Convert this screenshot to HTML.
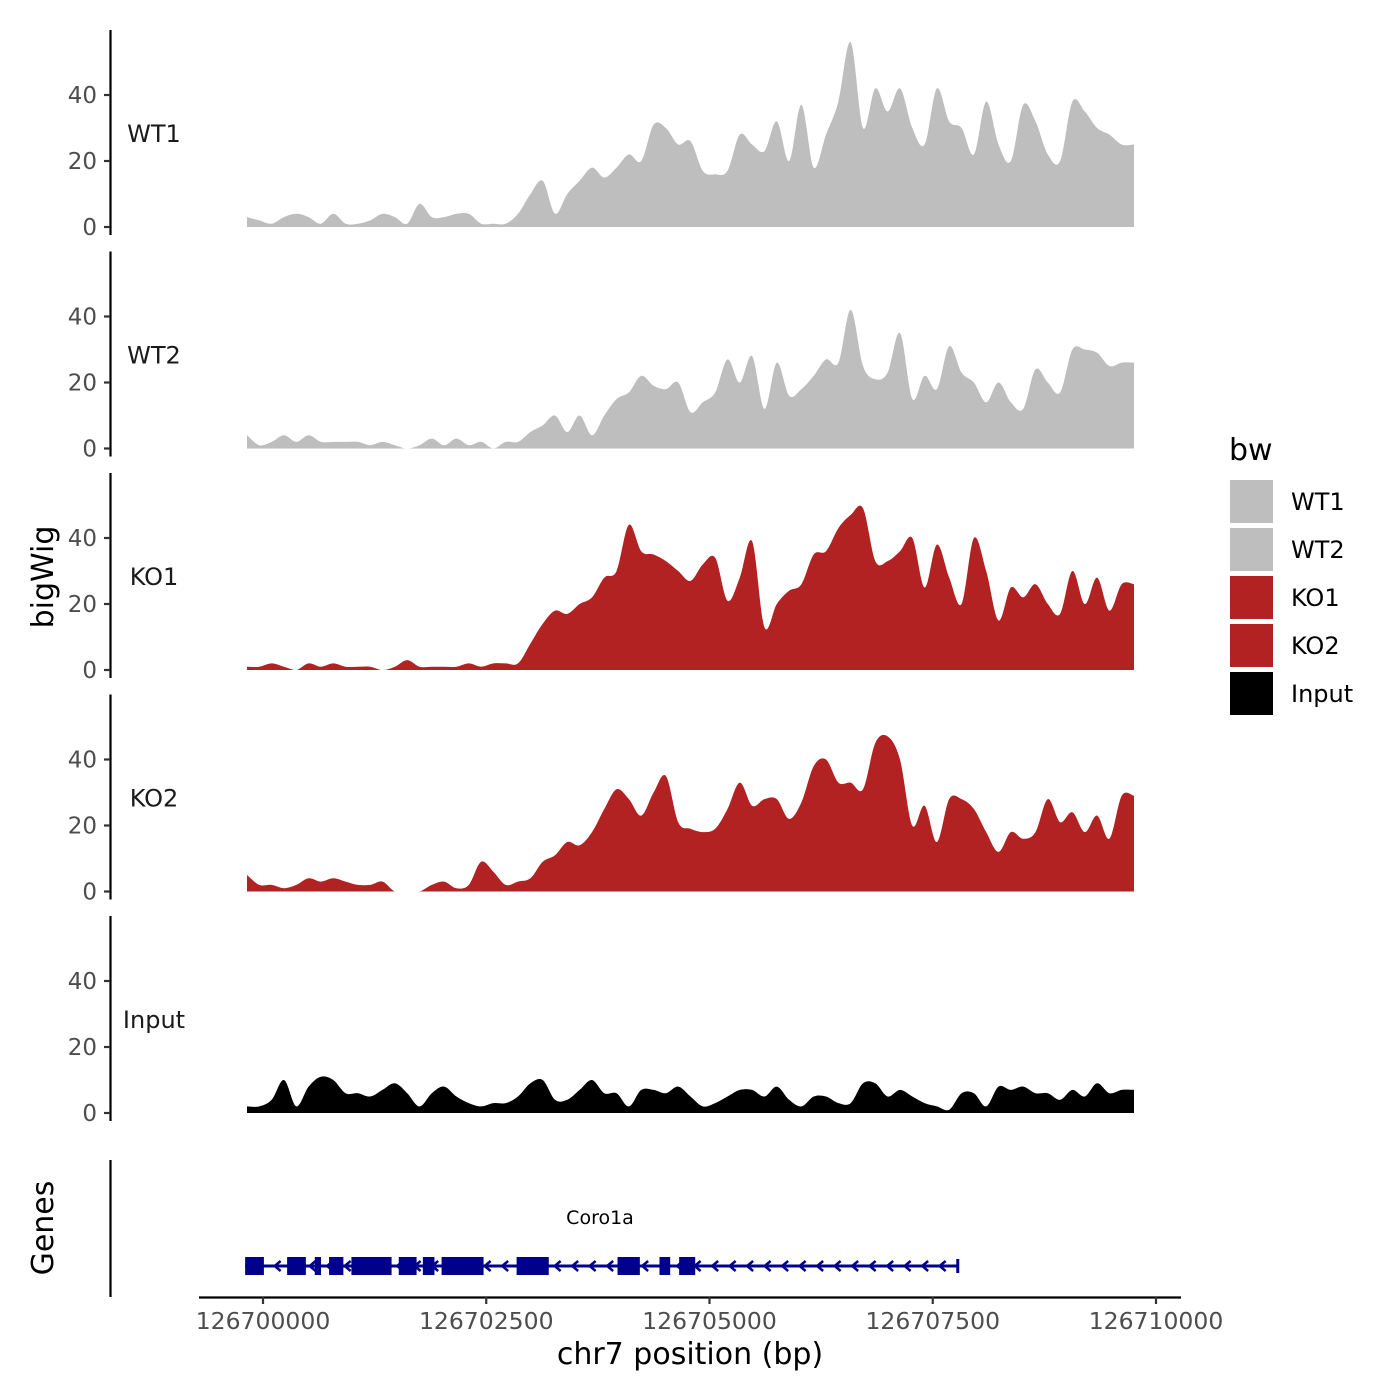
<!DOCTYPE html>
<html><head><meta charset="utf-8"><style>
html,body{margin:0;padding:0;background:#fff;}
svg{display:block;font-family:"DejaVu Sans","Liberation Sans",sans-serif;}
</style></head><body>
<svg id="chart" width="1400" height="1400" viewBox="0 0 1400 1400"></svg>
<script>
const trackNames = ["WT1","WT2","KO1","KO2","Input"];
const trackColors = ["#bebebe","#bebebe","#b22222","#b22222","#000000"];
const yTicks = [0,20,40];
const xTicks = [126700000,126702500,126705000,126707500,126710000];
const xTickLabels = ["126700000","126702500","126705000","126707500","126710000"];
const wt1 = [3,2,1,3,4,3,1,4,1,1,2,4,3,1,7,3,3,4,4,1,1,1,4,10,14,4,10,14,18,15,18,22,20,31,30,25,26,17,16,17,28,25,23,32,20,37,18,28,38,56,30,42,35,42,30,25,42,32,30,22,38,25,20,37,32,22,20,38,35,30,28,25,25];
const wt2 = [4,1,2,4,2,4,2,2,2,2,1,2,1,0,1,3,1,3,1,2,0,2,2,5,7,10,5,10,4,10,15,17,22,19,18,20,11,14,17,27,20,28,12,26,16,18,22,27,26,42,25,21,23,35,15,22,18,31,23,20,14,20,14,12,24,20,17,30,30,29,25,26,26];
const ko1 = [1,1,2,1,0,2,1,2,1,1,1,0,1,3,1,1,1,1,2,1,2,2,2,8,14,18,17,20,22,28,30,44,36,35,33,30,27,32,34,21,28,39,13,20,24,26,35,36,43,47,49,33,33,36,40,25,38,28,20,40,30,15,25,22,26,20,17,30,20,28,18,26,26];
const ko2 = [5,2,2,1,2,4,3,4,3,2,2,3,0,0,0,2,3,1,2,9,6,2,3,4,9,11,15,14,18,25,31,28,23,30,35,21,19,18,19,25,33,26,28,28,22,27,38,40,33,33,31,45,47,40,20,26,15,28,28,25,18,12,18,16,18,28,21,24,18,23,16,29,29];
const input = [2,2,4,10,2,8,11,10,6,6,5,7,9,6,2,6,8,5,3,2,3,3,5,9,10,4,4,7,10,6,6,2,7,7,6,8,5,2,3,5,7,7,5,8,4,2,5,5,3,3,9,9,5,7,5,3,2,1,6,6,2,8,7,8,6,6,4,7,5,9,6,7,7];
const seriesData = [wt1,wt2,ko1,ko2,input];
const startBp = 126699821, endBp = 126709754;
const exonStarts = [126699800,126700270,126700580,126700740,126700990,126701520,126701790,126702000,126702840,126703970,126704440,126704660];
const exonEnds   = [126700010,126700480,126700650,126700900,126701440,126701720,126701920,126702470,126703200,126704220,126704560,126704840];
const geneStart = 126699800, geneEnd = 126707780;

const NS="http://www.w3.org/2000/svg";
const svg=document.getElementById('chart');
function el(tag,attrs,parent){const e=document.createElementNS(NS,tag);for(const k in attrs)e.setAttribute(k,attrs[k]);(parent||svg).appendChild(e);return e;}
const xScale=bp=>263+(bp-126700000)*(1156-263)/10000;
const zeros=[227,448.5,670,891.5,1113];
const yUnit=3.3;

seriesData.forEach((vals,t)=>{
  const z=zeros[t];
  const g=el('g',{});
  
  
  const n=vals.length;
  const pts=vals.map((v,i)=>[xScale(startBp+(endBp-startBp)*i/(n-1)),z-v*yUnit]);
  let d='M'+pts[0][0].toFixed(1)+','+z+' L'+pts[0][0].toFixed(1)+','+pts[0][1].toFixed(1);
  for(let i=0;i<n-1;i++){
    const p0=pts[Math.max(0,i-1)],p1=pts[i],p2=pts[i+1],p3=pts[Math.min(n-1,i+2)];
    let c1y=p1[1]+(p2[1]-p0[1])/6, c2y=p2[1]-(p3[1]-p1[1])/6;
    c1y=Math.min(c1y,z); c2y=Math.min(c2y,z);
    d+=` C${(p1[0]+(p2[0]-p0[0])/6).toFixed(1)},${c1y.toFixed(1)} ${(p2[0]-(p3[0]-p1[0])/6).toFixed(1)},${c2y.toFixed(1)} ${p2[0].toFixed(1)},${p2[1].toFixed(1)}`;
  }
  d+=' L'+pts[n-1][0].toFixed(1)+','+z+' Z';
  const p=el('path',{d:d,fill:trackColors[t],stroke:'none'},g);
  
  
  const ax=el('line',{x1:110.5,x2:110.5,y1:z-197,y2:z+8,stroke:'#000','stroke-width':2.2},g);
  
  
  yTicks.forEach(v=>{
    const y=z-v*yUnit;
    el('line',{x1:104,x2:110,y1:y,y2:y,stroke:'#333','stroke-width':2.2},g);
    const tx=el('text',{x:97,y:y+8,'text-anchor':'end','font-size':23,fill:'#4d4d4d'},g);
    tx.textContent=v;
    
    
  });
  const lb=el('text',{x:154,y:z-85,'text-anchor':'middle','font-size':24,fill:'#1a1a1a'},g);
  lb.textContent=trackNames[t];
  
  
});

const yt=el('text',{transform:'translate(53,577) rotate(-90)','text-anchor':'middle','font-size':30,fill:'#000'});
yt.textContent='bigWig';



const gg=el('g',{});


el('line',{x1:110.5,x2:110.5,y1:1160,y2:1297,stroke:'#000','stroke-width':2.2},gg);
const gt=el('text',{transform:'translate(53,1228) rotate(-90)','text-anchor':'middle','font-size':30,fill:'#000'},gg);
gt.textContent='Genes';


const gy=1266;
el('line',{x1:xScale(geneStart),x2:xScale(geneEnd),y1:gy,y2:gy,stroke:'#00008b','stroke-width':3},gg);
el('line',{x1:xScale(geneEnd),x2:xScale(geneEnd),y1:gy-7,y2:gy+7,stroke:'#00008b','stroke-width':3},gg);
for(let x=xScale(geneStart)+14;x<xScale(geneEnd)-4;x+=17.5){
  el('path',{d:`M${x+4},${gy-5} L${x-2},${gy} L${x+4},${gy+5}`,fill:'none',stroke:'#00008b','stroke-width':2.5},gg);
}
exonStarts.forEach((s,i)=>{
  const r=el('rect',{x:xScale(s),y:1257,width:xScale(exonEnds[i])-xScale(s),height:18,fill:'#00008b'},gg);
  
  
});
const gn=el('text',{x:600,y:1224,'text-anchor':'middle','font-size':19,fill:'#000'},gg);
gn.textContent='Coro1a';



const xa=el('g',{});


el('line',{x1:199,x2:1181,y1:1297.5,y2:1297.5,stroke:'#000','stroke-width':2.2},xa);
xTicks.forEach((v,i)=>{
  const x=xScale(v);
  el('line',{x1:x,x2:x,y1:1297,y2:1304,stroke:'#333','stroke-width':2.2},xa);
  const t=el('text',{x:x,y:1329,'text-anchor':'middle','font-size':23.5,fill:'#4d4d4d'},xa);
  t.textContent=xTickLabels[i];
  
  
});
const xt=el('text',{x:690,y:1364,'text-anchor':'middle','font-size':30,fill:'#000'});
xt.textContent='chr7 position (bp)';



const lg=el('g',{});


const ltitle=el('text',{x:1229,y:460,'font-size':30,fill:'#000'},lg);
ltitle.textContent='bw';


trackNames.forEach((n,i)=>{
  const y=480+i*48;
  const r=el('rect',{x:1230,y:y,width:43,height:43,fill:trackColors[i]},lg);
  
  
  const t=el('text',{x:1291,y:y+30,'font-size':24,fill:'#000'},lg);
  t.textContent=n;
  
  
});
</script>
</body></html>
